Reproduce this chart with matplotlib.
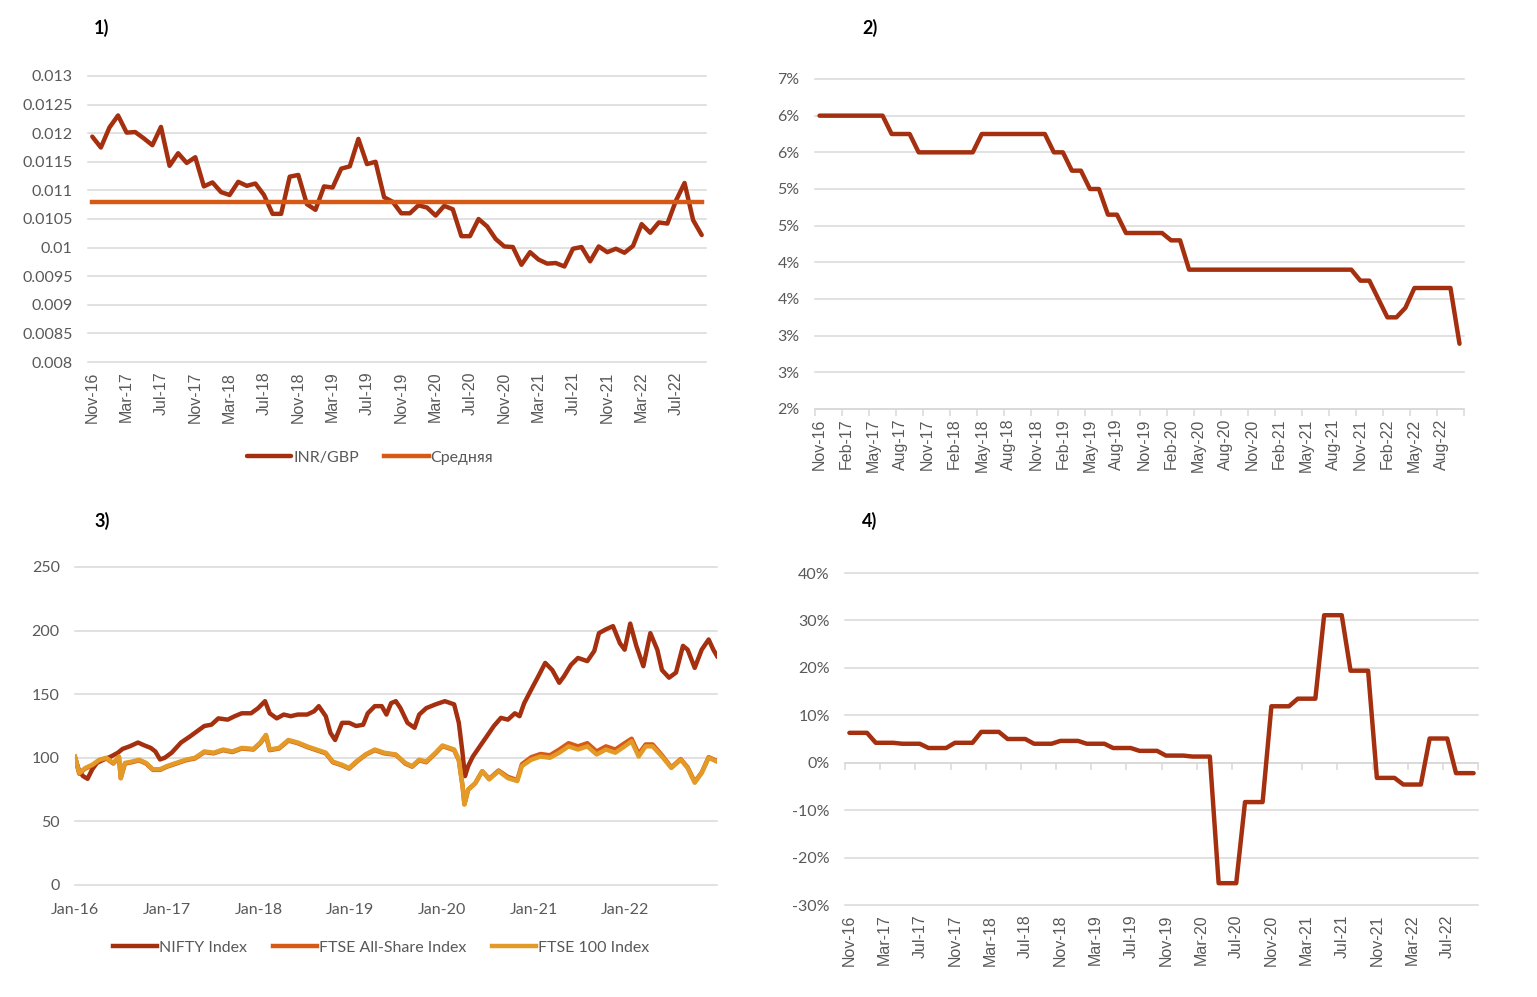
import numpy as np
import pandas as pd
import matplotlib
matplotlib.use('Agg')
import matplotlib.pyplot as plt
from matplotlib.ticker import FuncFormatter

plt.rcParams['font.family'] = ['Lato', 'DejaVu Sans']

DARK = '#A5300F'
ORANGE = '#D65A16'
GOLD = '#E39A27'
GRID = '#D9D9D9'
TXT = '#595959'

# ---- data ----
months = pd.date_range('2016-11-01', periods=72, freq='MS').strftime('%b-%y').tolist()

# 1) INR/GBP monthly
inr_gbp = [0.01194, 0.01175, 0.01210, 0.01231, 0.01201, 0.01202, 0.01191, 0.01179,
           0.01211, 0.01143, 0.01165, 0.01148, 0.01158, 0.01107, 0.01114, 0.01097,
           0.01092, 0.01115, 0.01108, 0.01112, 0.01092, 0.01059, 0.01059, 0.01124,
           0.01127, 0.01076, 0.01066, 0.01107, 0.01105, 0.01138, 0.01142, 0.01190,
           0.01146, 0.01150, 0.01088, 0.01080, 0.01060, 0.01060, 0.01074, 0.01070,
           0.01056, 0.01073, 0.01067, 0.01020, 0.01020, 0.01050, 0.01037, 0.01015,
           0.01002, 0.01001, 0.00970, 0.00992, 0.00979, 0.00972, 0.00973, 0.00967,
           0.00998, 0.01001, 0.00976, 0.01002, 0.00992, 0.00998, 0.00991, 0.01003,
           0.01041, 0.01026, 0.01044, 0.01042, 0.01082, 0.01113, 0.01048, 0.01022]
inr_avg = 0.01079
y1_ticks = [0.008, 0.0085, 0.009, 0.0095, 0.01, 0.0105, 0.011, 0.0115, 0.012, 0.0125, 0.013]

# 2) rate, %
rate2 = [6.5, 6.5, 6.5, 6.5, 6.5, 6.5, 6.5, 6.5, 6.25, 6.25, 6.25, 6.0,
         6.0, 6.0, 6.0, 6.0, 6.0, 6.0, 6.25, 6.25, 6.25, 6.25, 6.25, 6.25,
         6.25, 6.25, 6.0, 6.0, 5.75, 5.75, 5.5, 5.5, 5.15, 5.15, 4.9, 4.9,
         4.9, 4.9, 4.9, 4.8, 4.8, 4.4, 4.4, 4.4, 4.4, 4.4, 4.4, 4.4,
         4.4, 4.4, 4.4, 4.4, 4.4, 4.4, 4.4, 4.4, 4.4, 4.4, 4.4, 4.4,
         4.25, 4.25, 4.0, 3.75, 3.75, 3.88, 4.15, 4.15, 4.15, 4.15, 4.15, 3.39]
y2_ticks = [2.5, 3.0, 3.5, 4.0, 4.5, 5.0, 5.5, 6.0, 6.5, 7.0]
y2_labels = ['2%', '3%', '3%', '4%', '4%', '5%', '5%', '6%', '6%', '7%']

# 3) indices (decimal year, value)
nifty_t = [2016.000, 2016.046, 2016.087, 2016.137, 2016.188, 2016.239, 2016.316, 2016.392,
           2016.468, 2016.519, 2016.596, 2016.687, 2016.748, 2016.825, 2016.876, 2016.927,
           2016.978, 2017.054, 2017.156, 2017.258, 2017.334, 2017.410, 2017.487, 2017.563,
           2017.665, 2017.741, 2017.818, 2017.920, 2017.996, 2018.072, 2018.123, 2018.200,
           2018.276, 2018.352, 2018.429, 2018.531, 2018.607, 2018.658, 2018.734, 2018.785,
           2018.836, 2018.912, 2018.989, 2019.065, 2019.142, 2019.192, 2019.269, 2019.345,
           2019.396, 2019.447, 2019.498, 2019.549, 2019.625, 2019.702, 2019.753, 2019.829,
           2019.931, 2020.033, 2020.134, 2020.185, 2020.221, 2020.252, 2020.287, 2020.338,
           2020.414, 2020.491, 2020.567, 2020.644, 2020.720, 2020.796, 2020.847, 2020.898,
           2020.975, 2021.051, 2021.127, 2021.204, 2021.280, 2021.331, 2021.407, 2021.484,
           2021.586, 2021.662, 2021.713, 2021.789, 2021.866, 2021.942, 2021.993, 2022.054,
           2022.120, 2022.197, 2022.273, 2022.349, 2022.400, 2022.477, 2022.553, 2022.629,
           2022.680, 2022.757, 2022.833, 2022.909, 2022.960, 2023.000]
nifty = [100, 89.5, 85.6, 83.5, 91, 96, 98.7, 101,
         104, 107, 109, 112, 110, 107.8, 105, 98.7,
         100, 104, 112, 117, 121, 125, 126, 131,
         130, 132.7, 135, 135, 139, 144.5, 135, 131,
         134, 132.7, 134, 134, 136.6, 140.6, 132.7, 119.6,
         114, 127.5, 127.5, 125, 126, 135, 140.6, 140.6,
         134, 143, 144.5, 139, 127.5, 123.6, 134, 139,
         142, 144.5, 142, 127.5, 106.5, 85.6, 93.5, 101,
         109, 117, 125, 131.4, 130, 135, 132.7, 143,
         153.7, 164, 174.6, 169, 159, 164, 173, 178.5,
         176, 184, 198, 201, 203.5, 190, 185, 205.5,
         188, 172, 198, 185, 169, 163, 167, 188,
         185, 170.7, 185, 193, 185, 180]

ftse_t = [2016.000, 2016.046, 2016.112, 2016.188, 2016.265, 2016.341, 2016.418, 2016.479,
          2016.499, 2016.545, 2016.621, 2016.698, 2016.774, 2016.850, 2016.927, 2017.003,
          2017.105, 2017.207, 2017.309, 2017.410, 2017.512, 2017.614, 2017.716, 2017.818,
          2017.945, 2018.021, 2018.082, 2018.123, 2018.225, 2018.327, 2018.429, 2018.531,
          2018.632, 2018.734, 2018.811, 2018.912, 2018.989, 2019.065, 2019.167, 2019.269,
          2019.371, 2019.498, 2019.600, 2019.676, 2019.753, 2019.829, 2019.931, 2020.007,
          2020.134, 2020.185, 2020.226, 2020.246, 2020.287, 2020.364, 2020.440, 2020.516,
          2020.618, 2020.720, 2020.822, 2020.873, 2020.975, 2021.076, 2021.178, 2021.280,
          2021.382, 2021.484, 2021.586, 2021.687, 2021.789, 2021.891, 2021.993, 2022.069,
          2022.146, 2022.222, 2022.298, 2022.400, 2022.502, 2022.604, 2022.680, 2022.757,
          2022.833, 2022.909, 2023.000]
ftse100 = [101, 88, 92, 94.5, 98.5, 100, 96, 101,
           84, 96, 97, 98.5, 96, 91, 91, 93.5,
           96, 98.5, 100, 105, 104, 106.5, 105, 107.8,
           107, 112, 118, 106.5, 107.8, 114, 112, 109,
           106.5, 104, 97, 94.5, 92, 97, 102.6, 106.5,
           104, 102.6, 96, 93.5, 98.5, 97, 104, 109.7,
           106.5, 98.5, 77.7, 63.3, 75, 80, 89.5, 83,
           89.5, 84, 81.7, 93.5, 98.5, 101, 100, 104,
           109, 106.5, 109, 102.6, 106.5, 104, 109, 113,
           101, 109, 109, 101, 92, 98.5, 92, 80.4,
           88, 100, 97]
ftse_all = [100.5, 87.5, 91.5, 94, 98, 99.5, 95.5, 100.5,
            84, 95.5, 96.5, 98, 95.5, 90.5, 90.5, 93,
            95.5, 98, 99.5, 104.5, 103.5, 106, 104.5, 107.3,
            106.5, 111.5, 117.5, 106, 107.3, 113.5, 111.5, 108.5,
            106, 103.5, 96.5, 94, 91.5, 96.5, 102.3, 106,
            103.5, 102.3, 95.5, 93, 98, 96.5, 103.5, 109.2,
            106, 98, 77.5, 63.5, 75, 80, 89.5, 83.5,
            90, 85, 82.5, 95, 100.5, 103, 102, 106.5,
            111.5, 109, 111.5, 105, 109, 106.5, 111.5, 115,
            103, 110.5, 110.5, 102, 92.5, 99, 92.5, 81,
            88.5, 100.5, 97.5]
x3_ticks = [2016, 2017, 2018, 2019, 2020, 2021, 2022]
x3_labels = ['Jan-16', 'Jan-17', 'Jan-18', 'Jan-19', 'Jan-20', 'Jan-21', 'Jan-22']
y3_ticks = [0, 50, 100, 150, 200, 250]

# 4) growth, %
growth4 = [6.3, 6.3, 6.3, 4.2, 4.2, 4.2, 4.0, 4.0, 4.0, 3.1, 3.1, 3.1,
           4.2, 4.2, 4.2, 6.5, 6.5, 6.5, 5.0, 5.0, 5.0, 4.0, 4.0, 4.0,
           4.6, 4.6, 4.6, 4.0, 4.0, 4.0, 3.1, 3.1, 3.1, 2.5, 2.5, 2.5,
           1.5, 1.5, 1.5, 1.3, 1.3, 1.3, -25.4, -25.4, -25.4, -8.3, -8.3, -8.3,
           11.9, 11.9, 11.9, 13.5, 13.5, 13.5, 31.1, 31.1, 31.1, 19.4, 19.4, 19.4,
           -3.2, -3.2, -3.2, -4.6, -4.6, -4.6, 5.1, 5.1, 5.1, -2.2, -2.2, -2.2]
y4_ticks = [-30, -20, -10, 0, 10, 20, 30, 40]

# ---- figure ----
W, H = 1537, 997
fig = plt.figure(figsize=(W / 100, H / 100), dpi=100)


def box(l, r, t, b):
    return [l / W, 1 - b / H, (r - l) / W, (b - t) / H]


def base(ax):
    for s in ax.spines.values():
        s.set_visible(False)
    ax.yaxis.grid(True, color=GRID, linewidth=1.1, clip_on=False)
    ax.set_axisbelow(True)
    ax.tick_params(axis='y', length=0, pad=11, labelsize=11.5, labelcolor=TXT)
    ax.tick_params(axis='x', length=0, labelcolor=TXT)


def cat_xaxis(ax, step):
    ax.set_xlim(-0.5, 71.5)
    ax.set_xticks(range(0, 72, step))
    ax.set_xticklabels(months[::step], rotation=90, family='Liberation Sans',
                       fontsize=11.5, color=TXT)
    ax.tick_params(axis='x', pad=7)


x = np.arange(72)

# chart 1
ax1 = fig.add_axes(box(88, 706, 76, 362))
base(ax1)
ax1.plot(x, inr_gbp, color=DARK, lw=3.2, label='INR/GBP', solid_capstyle='round')
ax1.plot(x, np.full(72, inr_avg), color=ORANGE, lw=3.2, label='Средняя')
ax1.set_ylim(0.008, 0.013)
ax1.set_yticks(y1_ticks)
ax1.yaxis.set_major_formatter(FuncFormatter(lambda v, p: f'{v:g}'))
cat_xaxis(ax1, 4)
fig.legend(*ax1.get_legend_handles_labels(), loc='center', ncol=2,
           bbox_to_anchor=(370 / W, 1 - 458 / H), frameon=False, fontsize=11.5,
           handlelength=2.8, handletextpad=0.1, columnspacing=1.6, labelcolor=TXT)

# chart 2
ax2 = fig.add_axes(box(815, 1464, 79, 409))
base(ax2)
ax2.plot(x, rate2, color=DARK, lw=3.2, solid_capstyle='round')
ax2.set_ylim(2.5, 7.0)
ax2.set_yticks(y2_ticks)
ax2.set_yticklabels(y2_labels)
cat_xaxis(ax2, 3)
ax2.spines['bottom'].set_visible(True)
ax2.spines['bottom'].set_color(GRID)
ax2.spines['bottom'].set_linewidth(1.1)
ax2.set_xticks(np.arange(-0.5, 72, 3), minor=True)
ax2.tick_params(axis='x', which='minor', length=5, width=1.1, color=GRID)

# chart 3
ax3 = fig.add_axes(box(75, 717, 567, 885))
base(ax3)
ax3.plot(nifty_t, nifty, color=DARK, lw=3.2, label='NIFTY Index')
ax3.plot(ftse_t, ftse_all, color=ORANGE, lw=3.2, label='FTSE All-Share Index')
ax3.plot(ftse_t, ftse100, color=GOLD, lw=3.2, label='FTSE 100 Index')
ax3.set_ylim(0, 250)
ax3.set_yticks(y3_ticks)
ax3.set_xlim(2016, 2023)
ax3.set_xticks(x3_ticks)
ax3.set_xticklabels(x3_labels, fontsize=11.5, color=TXT)
ax3.tick_params(axis='x', pad=13)
fig.legend(*ax3.get_legend_handles_labels(), loc='center', ncol=3,
           bbox_to_anchor=(381 / W, 1 - 948 / H), frameon=False, fontsize=11.5,
           handlelength=2.8, handletextpad=0.1, columnspacing=1.6, labelcolor=TXT)

# chart 4
ax4 = fig.add_axes(box(845, 1478, 573, 905))
base(ax4)
ax4.plot(x, growth4, color=DARK, lw=3.2, solid_capstyle='round')
ax4.set_ylim(-30, 40)
ax4.set_yticks(y4_ticks)
ax4.yaxis.set_major_formatter(FuncFormatter(lambda v, p: f'{v:.0f}%'))
cat_xaxis(ax4, 4)
lo, hi = ax4.get_ylim()
sec = ax4.secondary_xaxis((0 - lo) / (hi - lo))
sec.set_xticks(np.arange(-0.5, 72, 4))
sec.tick_params(axis='x', length=5, width=1.1, color=GRID, labelbottom=False, labeltop=False)
for s in sec.spines.values():
    s.set_color(GRID)
    s.set_linewidth(1.1)

# panel numbers
for txt, px, py in [('1)', 94, 28), ('2)', 862, 28), ('3)', 94, 521), ('4)', 862, 521)]:
    fig.text(px / W, 1 - py / H, txt, fontsize=13, fontweight='bold', va='center', ha='left')

fig.savefig('out.png', dpi=100)
